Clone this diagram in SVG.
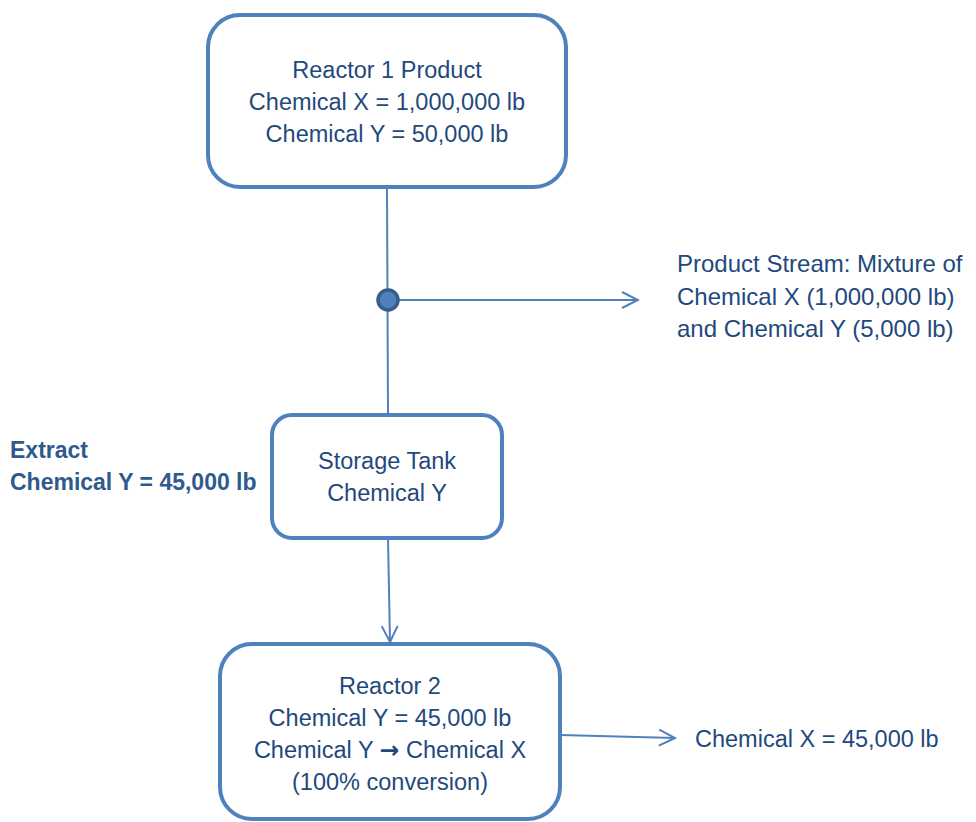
<svg xmlns="http://www.w3.org/2000/svg" width="976" height="822" viewBox="0 0 976 822">
<defs>
<style>
.box{fill:#fff;stroke:#4F81BD;stroke-width:4}
.t{font-family:"Liberation Sans",Arial,sans-serif;font-size:23.5px;fill:#1F497D}
.c{text-anchor:middle}
.b{font-weight:bold;fill:#2E5A8E;font-size:23px}
.ps{font-size:24px}
.ar{font-family:"DejaVu Sans",sans-serif;font-weight:bold}
.ln{stroke:#4F81BD;stroke-width:2;fill:none}
</style>
<marker id="arr" viewBox="0 0 20 20" refX="18" refY="10" markerWidth="20" markerHeight="20" markerUnits="userSpaceOnUse" orient="auto">
<path d="M2,2 L18,10 L2,18" fill="none" stroke="#4F81BD" stroke-width="2"/>
</marker>
</defs>
<rect width="976" height="822" fill="#fff"/>
<g id="connectors">
<line class="ln" x1="387" y1="187" x2="388" y2="415"/>
<line class="ln" x1="390" y1="300" x2="638" y2="300" marker-end="url(#arr)"/>
<line class="ln" x1="388" y1="538" x2="390" y2="642" marker-end="url(#arr)"/>
<line class="ln" x1="560" y1="735" x2="675" y2="738" marker-end="url(#arr)"/>
<circle cx="388" cy="300" r="10" fill="#4F81BD" stroke="#385D8A" stroke-width="3.5"/>
</g>
<g id="reactor1">
<rect class="box" x="208" y="15" width="358" height="172" rx="32"/>
<text class="t c" x="387" y="78">Reactor 1 Product</text>
<text class="t c" x="387" y="110">Chemical X = 1,000,000 lb</text>
<text class="t c" x="387" y="142">Chemical Y = 50,000 lb</text>
</g>
<g id="storage">
<rect class="box" x="272" y="415" width="230" height="123" rx="20"/>
<text class="t c" x="387" y="469">Storage Tank</text>
<text class="t c" x="387" y="501">Chemical Y</text>
</g>
<g id="reactor2">
<rect class="box" x="220" y="644" width="340" height="175" rx="32"/>
<text class="t c" x="390" y="694">Reactor 2</text>
<text class="t c" x="390" y="726">Chemical Y = 45,000 lb</text>
<text class="t c" x="390" y="758">Chemical Y <tspan class="ar">→</tspan> Chemical X</text>
<text class="t c" x="390" y="790">(100% conversion)</text>
</g>
<g id="product-stream">
<text class="t ps" x="677" y="272">Product Stream: Mixture of</text>
<text class="t ps" x="677" y="305">Chemical X (1,000,000 lb)</text>
<text class="t ps" x="677" y="337">and Chemical Y (5,000 lb)</text>
</g>
<g id="extract">
<text class="t b" x="10" y="458">Extract</text>
<text class="t b" x="10" y="490">Chemical Y = 45,000 lb</text>
</g>
<g id="output-x">
<text class="t" x="695" y="747">Chemical X = 45,000 lb</text>
</g>
</svg>
